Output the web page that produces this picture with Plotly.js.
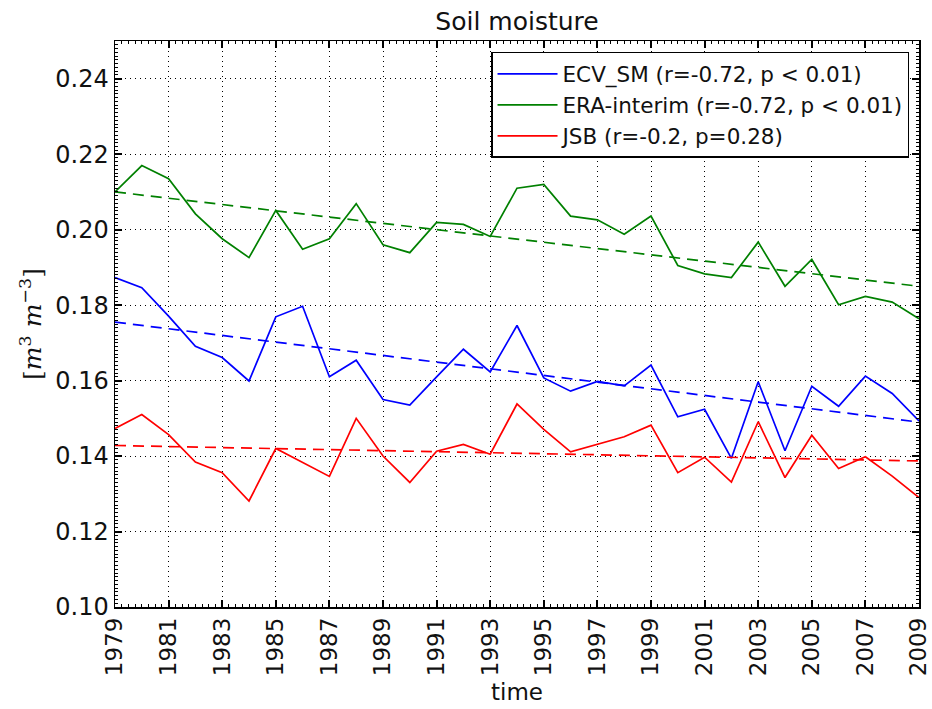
<!DOCTYPE html>
<html>
<head>
<meta charset="utf-8">
<script src="https://cdn.plot.ly/plotly-3.0.1.min.js"></script>
<style>html,body{margin:0;padding:0;background:#fff;}#chart{width:932px;height:709px;}</style>
</head>
<body>
<div id="chart"></div>
<script>
const years = [1979,1980,1981,1982,1983,1984,1985,1986,1987,1988,1989,1990,1991,1992,1993,1994,
               1995,1996,1997,1998,1999,2000,2001,2002,2003,2004,2005,2006,2007,2008,2009];
const ecvSM = [0.1873,0.1846,0.1771,0.1691,0.1661,0.1599,0.1769,0.1797,0.1610,0.1654,0.1550,0.1535,0.1610,0.1683,0.1623,0.1746,
               0.1607,0.1572,0.1598,0.1586,0.1641,0.1504,0.1524,0.1394,0.1597,0.1414,0.1585,0.1532,0.1612,0.1566,0.1493];
const eraInterim = [0.2100,0.2170,0.2135,0.2042,0.1976,0.1926,0.2051,0.1948,0.1976,0.2069,0.1960,0.1939,0.2019,0.2014,0.1982,0.2110,
               0.2120,0.2036,0.2026,0.1988,0.2036,0.1905,0.1883,0.1873,0.1967,0.1850,0.1921,0.1801,0.1823,0.1808,0.1764];
const jsb = [0.1473,0.1510,0.1457,0.1384,0.1356,0.1281,0.1420,0.1382,0.1346,0.1500,0.1400,0.1330,0.1413,0.1431,0.1405,0.1538,
               0.1471,0.1411,0.1431,0.1451,0.1482,0.1356,0.1397,0.1331,0.1491,0.1343,0.1455,0.1367,0.1398,0.1347,0.1290];
const trendYears = [1979, 2009];
const ecvTrend = [0.1755, 0.1490];
const eraTrend = [0.2100, 0.1850];
const jsbTrend = [0.1428, 0.1387];
const seriesNames = ["ECV_SM (r=-0.72, p < 0.01)", "ERA-interim (r=-0.72, p < 0.01)", "JSB (r=-0.2, p=0.28)"];
const xTickVals = [1979,1981,1983,1985,1987,1989,1991,1993,1995,1997,1999,2001,2003,2005,2007,2009];
const yTickVals = [0.10,0.12,0.14,0.16,0.18,0.20,0.22,0.24];

const BLUE = "#0000ff", GREEN = "#008000", RED = "#ff0000";
const FONT = "DejaVu Sans, sans-serif";

const traces = [
  {x: years, y: ecvSM, name: seriesNames[0], mode: "lines", line: {color: BLUE, width: 1.7}},
  {x: years, y: eraInterim, name: seriesNames[1], mode: "lines", line: {color: GREEN, width: 1.7}},
  {x: years, y: jsb, name: seriesNames[2], mode: "lines", line: {color: RED, width: 1.7}},
  {x: trendYears, y: ecvTrend, mode: "lines", showlegend: false, hoverinfo: "skip", line: {color: BLUE, width: 1.7, dash: "11px,7px"}},
  {x: trendYears, y: eraTrend, mode: "lines", showlegend: false, hoverinfo: "skip", line: {color: GREEN, width: 1.7, dash: "11px,7px"}},
  {x: trendYears, y: jsbTrend, mode: "lines", showlegend: false, hoverinfo: "skip", line: {color: RED, width: 1.7, dash: "11px,7px"}}
];

const layout = {
  width: 932, height: 709,
  margin: {l: 115, r: 13, t: 41, b: 102},
  paper_bgcolor: "#fff", plot_bgcolor: "#fff",
  font: {family: FONT, color: "#111"},
  title: {text: "Soil moisture", font: {family: FONT, size: 25, color: "#111"},
          x: 0.5, xref: "paper", xanchor: "center", y: 1 - 21/709, yref: "container", yanchor: "middle"},
  xaxis: {
    range: [1979, 2009], tickmode: "array", tickvals: xTickVals, ticktext: xTickVals.map(String),
    tickangle: -90, tickfont: {family: FONT, size: 23, color: "#111"}, ticklabeloverflow: "allow",
    ticks: "inside", ticklen: 7, tickwidth: 2, tickcolor: "#000",
    showline: true, linecolor: "#000", linewidth: 1.5, mirror: "ticks",
    showgrid: true, gridcolor: "#000", gridwidth: 1, griddash: "1px,4px",
    zeroline: false,
    minor: {ticks: "inside", ticklen: 3, tickwidth: 1, tickcolor: "#000", dtick: 0.25, showgrid: false},
    title: {text: "time", font: {family: FONT, size: 23, color: "#111"}, standoff: 8}
  },
  yaxis: {
    range: [0.10, 0.25], tickmode: "array", tickvals: yTickVals, ticktext: yTickVals.map(v => v.toFixed(2)),
    tickfont: {family: FONT, size: 24, color: "#111"}, ticklabeloverflow: "allow",
    ticks: "inside", ticklen: 7, tickwidth: 2, tickcolor: "#000",
    showline: true, linecolor: "#000", linewidth: 1.5, mirror: "ticks",
    showgrid: true, gridcolor: "#000", gridwidth: 1, griddash: "1px,4px",
    zeroline: false,
    minor: {ticks: "inside", ticklen: 3, tickwidth: 1, tickcolor: "#000", dtick: 0.001, showgrid: false},
    title: {text: "[<i>m</i><sup>3</sup> <i>m</i><sup>−3</sup>]", font: {family: "DejaVu Serif, serif", size: 25, color: "#111"}, standoff: 6}
  },
  legend: {
    x: 0.9876, y: 0.9806, xanchor: "right", yanchor: "top",
    bgcolor: "#fff", bordercolor: "#000", borderwidth: 1.5,
    font: {family: FONT, size: 21.5, color: "#111"},
    itemwidth: 60, tracegroupgap: 0
  },
  showlegend: true
};

Plotly.newPlot("chart", traces, layout, {staticPlot: true, displayModeBar: false});
</script>
</body>
</html>
